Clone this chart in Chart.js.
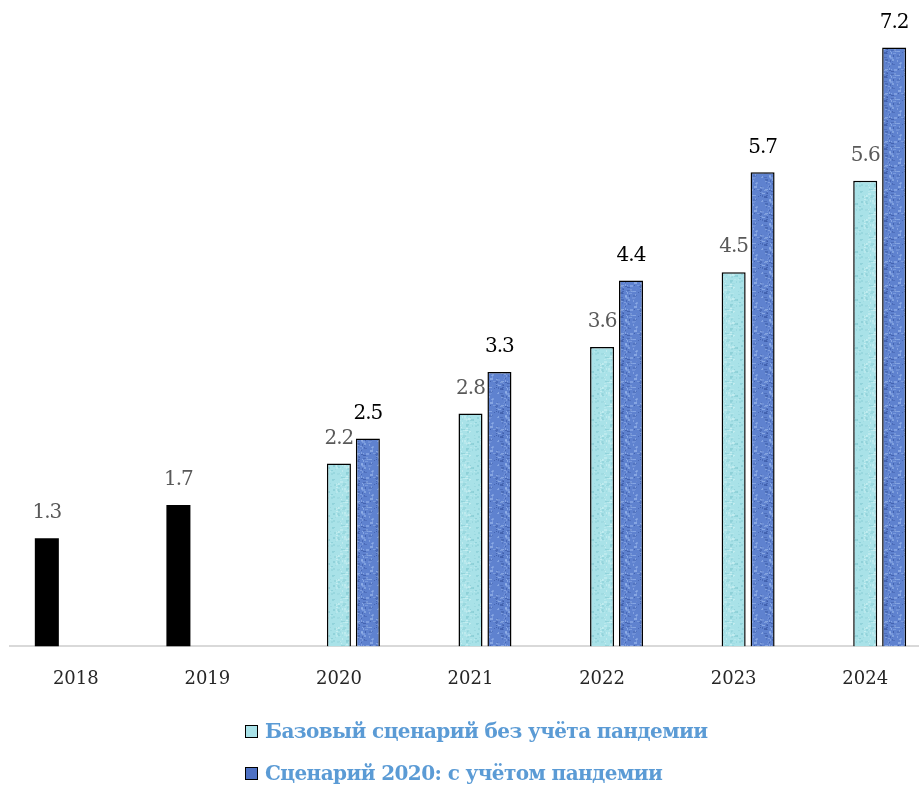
<!DOCTYPE html>
<html>
<head>
<meta charset="utf-8">
<script src="https://cdn.jsdelivr.net/npm/chart.js@4/dist/chart.umd.min.js"></script>
<style>
  body { margin: 0; background: #fff; overflow: hidden; }
  #wrap { position: relative; width: 932px; height: 787px; }
  #legend { position: absolute; left: 245px; top: 710px; font-family: "DejaVu Serif", "Liberation Serif", serif;
            font-size: 20px; font-weight: bold; color: #5B9BD5; letter-spacing: -0.6px; }
  #legend .row { display: flex; align-items: center; height: 42px; }
  #legend .box { width: 11px; height: 11px; border: 1.5px solid #000; margin-right: 7px; }
</style>
</head>
<body>
<div id="wrap">
  <canvas id="chart" width="932" height="787"></canvas>
  <div id="legend"></div>
</div>
<script>
// данные
const years = ['2018', '2019', '2020', '2021', '2022', '2023', '2024'];
const actual = [1.3, 1.7, null, null, null, null, null];
const baseScenario = [null, null, 2.2, 2.8, 3.6, 4.5, 5.6];
const covidScenario = [null, null, 2.5, 3.3, 4.4, 5.7, 7.2];
const seriesNames = ['Факт', 'Базовый сценарий без учёта пандемии', 'Сценарий 2020: с учётом пандемии'];

// текстура для столбиков
function makePattern(base, light, dark, seed) {
    const c = document.createElement('canvas');
    c.width = 24; c.height = 24;
    const g = c.getContext('2d');
    g.fillStyle = base;
    g.fillRect(0, 0, 24, 24);
    let s = seed;
    function rnd() { s = (s * 9301 + 49297) % 233280; return s / 233280; }
    for (let i = 0; i < 70; i++) {
        g.fillStyle = rnd() > 0.5 ? light : dark;
        g.globalAlpha = 0.25 + rnd() * 0.45;
        g.fillRect(Math.floor(rnd() * 24), Math.floor(rnd() * 24), 1 + Math.floor(rnd() * 3), 1 + Math.floor(rnd() * 2));
    }
    return g.createPattern(c, 'repeat');
}
const ctx = document.getElementById('chart').getContext('2d');
const cyanFill = makePattern('#A9E2E8', '#D2F3F5', '#86CBD3', 7);
const blueFill = makePattern('#5F82CF', '#9AB8EC', '#34529E', 13);

// подписи значений
const valueLabels = {
    id: 'valueLabels',
    afterDatasetsDraw(chart) {
        const c = chart.ctx;
        c.save();
        c.textAlign = 'center';
        c.textBaseline = 'bottom';
        c.font = '20px "DejaVu Serif", "Liberation Serif", serif';
        c.letterSpacing = '-1px';
        chart.data.datasets.forEach((ds, di) => {
            c.fillStyle = di == 2 ? '#000000' : '#595959';
            chart.getDatasetMeta(di).data.forEach((bar, i) => {
                if (ds.data[i] == null) return;
                c.fillText(ds.data[i].toFixed(1), bar.x, bar.y - 15);
            });
        });
        c.restore();
    }
};

const chart = new Chart(ctx, {
    type: 'bar',
    data: {
        labels: years,
        datasets: [
            { label: seriesNames[0], data: actual, backgroundColor: '#000000', borderWidth: 0 },
            { label: seriesNames[1], data: baseScenario, backgroundColor: cyanFill, borderColor: '#000', borderWidth: 1.5 },
            { label: seriesNames[2], data: covidScenario, backgroundColor: blueFill, borderColor: '#000', borderWidth: 1.5 }
        ]
    },
    options: {
        responsive: false,
        animation: false,
        layout: { padding: { top: 6, left: 10, right: 1, bottom: 83 } },
        datasets: { bar: { categoryPercentage: 0.66, barPercentage: 0.83 } },
        plugins: { legend: { display: false }, tooltip: { enabled: false } },
        scales: {
            x: {
                grid: { display: false },
                border: { display: true, color: '#D9D9D9', width: 2 },
                ticks: { color: '#262626', padding: 14, font: { family: '"DejaVu Serif", "Liberation Serif", serif', size: 18 } }
            },
            y: { display: false, min: 0, max: 7.7 }
        }
    },
    plugins: [valueLabels]
});

// легенда (только два сценария)
const legend = document.getElementById('legend');
[1, 2].forEach(i => {
    const row = document.createElement('div');
    row.className = 'row';
    const box = document.createElement('div');
    box.className = 'box';
    box.style.background = i == 1 ? '#A9E2E8' : '#4E71C4';
    row.appendChild(box);
    row.appendChild(document.createTextNode(seriesNames[i]));
    legend.appendChild(row);
});
</script>
</body>
</html>
